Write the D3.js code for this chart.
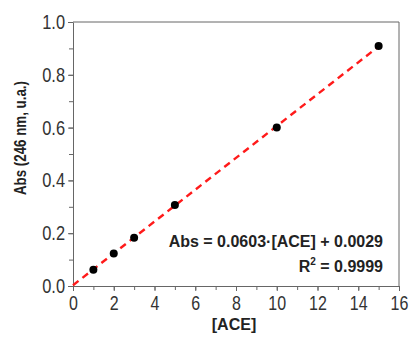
<!DOCTYPE html>
<html>
<head>
<meta charset="utf-8">
<script src="https://cdn.jsdelivr.net/npm/d3@7"></script>
<style>
  body { margin: 0; background: #fff; }
  text { font-family: "Liberation Sans", Arial, sans-serif; }
</style>
</head>
<body>
<div id="chart"></div>
<script>
// calibration points
const concentrations = [1, 2, 3, 5, 10, 15];
const absorbances = [0.062, 0.123, 0.183, 0.307, 0.600, 0.909];

// linear fit
const slope = 0.0603;
const intercept = 0.0029;
const fitRange = [0, 15];

const xTicks = [0, 2, 4, 6, 8, 10, 12, 14, 16];
const yTicks = [0.0, 0.2, 0.4, 0.6, 0.8, 1.0];
const xMinor = d3.range(0, 17, 1);
const yMinor = d3.range(0, 1.01, 0.1);

const width = 409, height = 337;
const margin = { top: 22, right: 10, bottom: 51, left: 73 };

const svg = d3.select("#chart").append("svg")
    .attr("width", width)
    .attr("height", height);

const x = d3.scaleLinear().domain([0, 16]).range([margin.left, width - margin.right]);
const y = d3.scaleLinear().domain([0, 1]).range([height - margin.bottom, margin.top]);

const axisColor = "#666";

// squeeze text horizontally to mimic the narrow face of the original
const condense = (sel, k) => sel.each(function () {
    const w = this.getComputedTextLength();
    d3.select(this).attr("textLength", w * k).attr("lengthAdjust", "spacingAndGlyphs");
});

// minor ticks
svg.append("g")
    .attr("transform", `translate(0,${y(0)})`)
    .call(d3.axisBottom(x).tickValues(xMinor).tickSize(4).tickFormat(""))
    .call(g => g.select(".domain").remove())
    .call(g => g.selectAll("line").attr("stroke", axisColor));
svg.append("g")
    .attr("transform", `translate(${x(0)},0)`)
    .call(d3.axisLeft(y).tickValues(yMinor).tickSize(4).tickFormat(""))
    .call(g => g.select(".domain").remove())
    .call(g => g.selectAll("line").attr("stroke", axisColor));

// major axes
svg.append("g")
    .attr("transform", `translate(0,${y(0)})`)
    .call(d3.axisBottom(x).tickValues(xTicks).tickSize(5).tickSizeOuter(0).tickPadding(5).tickFormat(d3.format("d")))
    .call(g => g.select(".domain").attr("stroke", axisColor))
    .call(g => g.selectAll("line").attr("stroke", axisColor))
    .call(g => g.selectAll("text").attr("fill", "#333").attr("font-size", 20).call(condense, 0.8));

svg.append("g")
    .attr("transform", `translate(${x(0)},0)`)
    .call(d3.axisLeft(y).tickValues(yTicks).tickSize(5).tickSizeOuter(0).tickPadding(3).tickFormat(d3.format(".1f")))
    .call(g => g.select(".domain").attr("stroke", axisColor))
    .call(g => g.selectAll("line").attr("stroke", axisColor))
    .call(g => g.selectAll("text").attr("fill", "#333").attr("font-size", 20).call(condense, 0.82));

// top and right frame
svg.append("path")
    .attr("d", `M${x(0)},${y(1)}H${x(16)}V${y(0)}`)
    .attr("fill", "none")
    .attr("stroke", axisColor);

// fit line
const line = d3.line().x(d => x(d)).y(d => y(slope * d + intercept));
svg.append("path")
    .datum(fitRange)
    .attr("d", line)
    .attr("fill", "none")
    .attr("stroke", "#ff1a1a")
    .attr("stroke-width", 2.4)
    .attr("stroke-dasharray", "7,5");

// points
svg.selectAll(".pt")
    .data(concentrations.map((c, i) => [c, absorbances[i]]))
    .enter().append("circle")
    .attr("class", "pt")
    .attr("cx", d => x(d[0]))
    .attr("cy", d => y(d[1]))
    .attr("r", 4)
    .attr("fill", "#000");

// axis labels
svg.append("text")
    .attr("x", 234)
    .attr("y", 330)
    .attr("text-anchor", "middle")
    .attr("font-weight", "bold")
    .attr("font-size", 16)
    .attr("fill", "#222")
    .text("[ACE]");

svg.append("text")
    .attr("transform", "translate(26,138) rotate(-90)")
    .attr("text-anchor", "middle")
    .attr("font-weight", "bold")
    .attr("font-size", 17)
    .attr("fill", "#222")
    .text("Abs (246 nm, u.a.)")
    .attr("textLength", 114)
    .attr("lengthAdjust", "spacingAndGlyphs");

// equation
const eq = svg.append("g").attr("font-weight", "bold").attr("font-size", 16).attr("fill", "#222");
eq.append("text")
    .attr("x", 383).attr("y", 247)
    .attr("text-anchor", "end")
    .text("Abs = 0.0603\u00b7[ACE] + 0.0029");
const r2 = eq.append("text")
    .attr("x", 383).attr("y", 272)
    .attr("text-anchor", "end");
r2.append("tspan").text("R");
r2.append("tspan").attr("font-size", 10).attr("dy", -7).text("2");
r2.append("tspan").attr("dy", 7).text(" = 0.9999");
</script>
</body>
</html>
